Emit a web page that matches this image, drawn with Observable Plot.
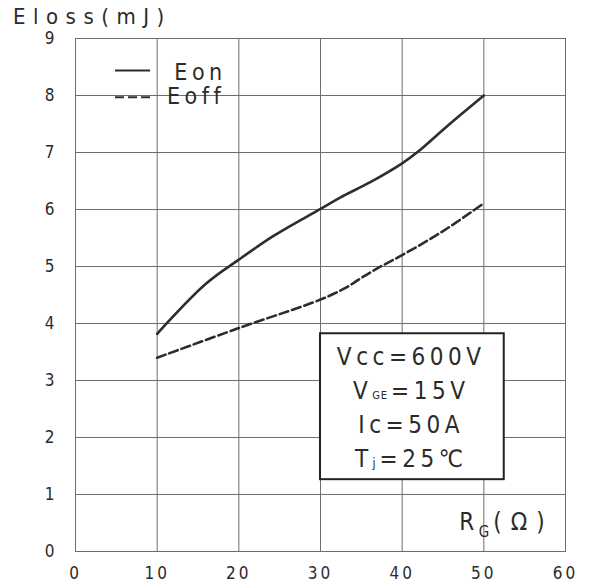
<!DOCTYPE html>
<html>
<head>
<meta charset="utf-8">
<script src="https://cdn.jsdelivr.net/npm/d3@7"></script>
<script src="https://cdn.jsdelivr.net/npm/@observablehq/plot@0.6"></script>
<style>
  body { margin: 0; background: #fff; }
  #chart { width: 590px; position: relative; }
  .ttl { height: 30px; box-sizing: border-box; padding-left: 13px; font-family: "DejaVu Sans Condensed", "DejaVu Sans", sans-serif; font-size: 22px; line-height: 34px; letter-spacing: 7.5px; color: #2b2b2b; white-space: nowrap; }
  #chart svg text { letter-spacing: 4.5px; }
  #chart g[aria-label^="x-axis"] text { letter-spacing: 3px; }
  #chart g[aria-label^="y-axis"] text { letter-spacing: 0px; }
</style>
</head>
<body>
<div id="chart"></div>
<script>
// ---- data ----
const titleText = "Eloss(mJ)";
const xTicks = [0, 10, 20, 30, 40, 50, 60];
const yTicks = [0, 1, 2, 3, 4, 5, 6, 7, 8, 9];

const rgOn  = [10, 16, 20, 24.3, 30, 32.4, 36.1, 40, 42, 44.7, 46.9, 50];
const eOn   = [3.82, 4.70, 5.12, 5.54, 6.01, 6.21, 6.48, 6.81, 7.02, 7.36, 7.63, 8.00];
const rgOff = [10, 20, 30, 33, 35, 37, 40, 45, 50];
const eOff  = [3.40, 3.92, 4.42, 4.62, 4.80, 4.97, 5.20, 5.62, 6.11];

const seriesNames = ["Eon", "Eoff"];
const conditions = ["Vcc=600V", "V_{GE}=15V", "Ic=50A", "T_{j}=25℃"];
const xAxisLabel = "R_{G}(Ω)";

// ---- build rows ----
const onRows = rgOn.map((r, i) => ({rg: r, e: eOn[i]}));
const offRows = rgOff.map((r, i) => ({rg: r, e: eOff[i]}));

const FONT = '"DejaVu Sans Condensed", "DejaVu Sans", sans-serif';
const GRID = "#6e6e6e";
const INK = "#2a2e33";

const title = document.createElement("div");
title.className = "ttl";
title.textContent = titleText;
document.getElementById("chart").appendChild(title);

const plot = Plot.plot({
  width: 590,
  height: 554,
  marginTop: 8,
  marginBottom: 33,
  marginLeft: 75,
  marginRight: 25,
  style: {fontFamily: FONT, fontSize: "17px", color: "#2b2b2b", background: "white", overflow: "visible"},
  x: {domain: [0, 60], ticks: xTicks, tickSize: 0, tickPadding: 15, label: null},
  y: {domain: [0, 9], ticks: yTicks, tickSize: 0, tickPadding: 21, label: null},
  marks: [
    Plot.ruleX(xTicks, {stroke: GRID, strokeWidth: 1}),
    Plot.ruleY(yTicks, {stroke: GRID, strokeWidth: 1}),
    Plot.frame({stroke: GRID}),
    Plot.line(onRows, {x: "rg", y: "e", stroke: INK, strokeWidth: 2.6, curve: "catmull-rom"}),
    Plot.line(offRows, {x: "rg", y: "e", stroke: INK, strokeWidth: 2.6, strokeDasharray: "9,4", curve: "catmull-rom"}),
    // legend
    Plot.ruleY([8.44], {x1: 4.9, x2: 9.2, stroke: INK, strokeWidth: 2}),
    Plot.ruleY([7.97], {x1: 4.9, x2: 9.2, stroke: INK, strokeWidth: 2, strokeDasharray: "9,4"}),
    Plot.text([seriesNames[0]], {x: 12.1, y: 8.41, text: d => d, textAnchor: "start", fontSize: 23, fill: "#2b2b2b"}),
    Plot.text([seriesNames[1]], {x: 11.2, y: 7.98, text: d => d, textAnchor: "start", fontSize: 23, fill: "#2b2b2b"}),
    // condition box
    Plot.rect([0], {x1: 30, x2: 52.5, y1: 1.26, y2: 3.82, fill: "white", stroke: "#222", strokeWidth: 2}),
    Plot.text(conditions, {x: 41.1, y: (d, i) => 3.40 - i * 0.597, text: d => d, textAnchor: "middle", fontSize: 24, fill: "#2b2b2b"}),
    // x axis label
    Plot.text([xAxisLabel], {x: 47.0, y: 0.52, text: d => d, textAnchor: "start", fontSize: 24, fill: "#2b2b2b"})
  ]
});

// subscripts as real text tspans
const subSpec = {
  "GE": {size: 11, dy: 0, tail: null},
  "j": {size: 12, dy: 0, tail: null},
  "G": {size: 15, dy: 7, tail: "9px"}
};
d3.select(plot).selectAll("text").each(function() {
  const t = this.textContent;
  const m = t.match(/^(.*?)_\{(.*?)\}(.*)$/);
  if (!m) return;
  const spec = subSpec[m[2]] || {size: 12, dy: 4, tail: null};
  const sel = d3.select(this);
  sel.text(null);
  sel.append("tspan").text(m[1]);
  sel.append("tspan").attr("font-size", spec.size).attr("dy", spec.dy).style("letter-spacing", "1px").text(m[2]);
  const tail = sel.append("tspan").attr("dy", -spec.dy).attr("dx", 3).text(m[3]);
  if (spec.tail) tail.style("letter-spacing", spec.tail);
});

document.getElementById("chart").appendChild(plot);
</script>
</body>
</html>
